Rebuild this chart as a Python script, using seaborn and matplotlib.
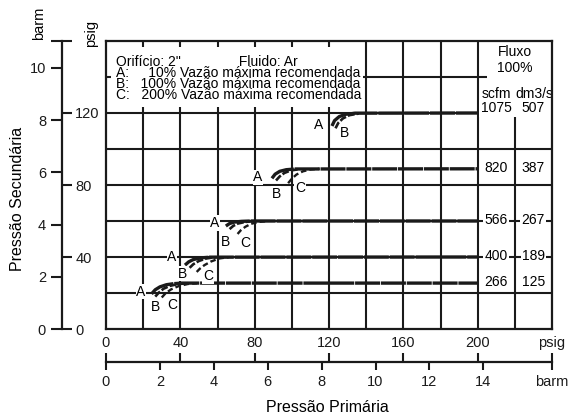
import matplotlib
matplotlib.use("Agg")
import matplotlib.pyplot as plt
import seaborn as sns
import numpy as np
from matplotlib.patches import Rectangle

sns.set_theme(style="ticks")
plt.rcParams['font.family'] = ['Liberation Sans', 'DejaVu Sans']
plt.rcParams['text.color'] = 'black'
plt.rcParams['axes.labelcolor'] = 'black'
plt.rcParams['xtick.color'] = 'black'
plt.rcParams['ytick.color'] = 'black'
plt.rcParams['lines.scale_dashes'] = False

PSIG_PER_BARM = 14.5038

# ---------------- data (psig) ----------------
# regulated secondary pressure levels (psig) and flows at 100 %
levels = [25.5, 40, 60, 89, 120]
flow_scfm = ["266", "400", "566", "820", "1075"]
flow_dm3s = ["125", "189", "267", "387", "507"]

# curve A (10 % flow) for each level: primary (x) vs secondary (y)
A_x = [[24.5, 26.5, 29.0, 32.5, 36.5, 41.0, 200],
       [42.5, 44.5, 47.0, 51.0, 56.0, 200],
       [64.5, 66.5, 69.0, 73.0, 78.0, 200],
       [89.3, 91.0, 93.5, 97.0, 102.0, 200],
       [121.6, 123.0, 125.5, 129.0, 134.0, 200]]
A_y = [[19.5, 21.8, 23.4, 24.6, 25.2, 25.5, 25.5],
       [35.5, 37.3, 38.6, 39.5, 39.9, 40.0],
       [57.2, 58.6, 59.4, 59.8, 60.0, 60.0],
       [83.7, 86.0, 87.6, 88.5, 88.9, 89.0],
       [112.8, 115.8, 118.0, 119.3, 119.9, 120.0]]
# curve B (100 % flow)
B_x = [[26.5, 28.5, 31.0, 34.5, 39.0, 44.0],
       [45.0, 47.0, 50.0, 54.0, 59.0],
       [66.5, 68.5, 71.0, 75.0, 80.0],
       [91.5, 93.5, 96.0, 99.5, 104.0],
       [123.5, 125.0, 127.5, 131.0, 136.0]]
B_y = [[18.0, 20.3, 22.4, 24.0, 25.0, 25.4],
       [34.0, 36.0, 37.8, 39.2, 39.9],
       [55.5, 57.3, 58.6, 59.5, 59.9],
       [82.5, 84.8, 86.7, 88.1, 88.8],
       [111.5, 114.5, 117.0, 118.8, 119.7]]
# curve C (200 % flow); none drawn at the top level
C_x = [[30.0, 32.0, 35.0, 39.0, 44.0, 49.0],
       [48.8, 50.5, 53.0, 56.5, 61.0, 66.0],
       [70.8, 72.5, 75.0, 78.0, 82.0, 87.0],
       [98.0, 100.0, 102.5, 106.0, 110.0, 115.0],
       None]
C_y = [[17.5, 19.8, 22.0, 23.8, 25.0, 25.4],
       [31.7, 33.5, 35.5, 37.5, 39.2, 39.9],
       [52.8, 54.8, 56.8, 58.4, 59.5, 59.9],
       [81.0, 83.5, 85.8, 87.6, 88.6, 89.0],
       None]

# letter positions (psig)
lab_A = [(18.8, 20.6), (35.5, 40.0), (58.6, 58.9), (81.8, 84.4), (114.6, 113.3)]
lab_B = [(26.4, 12.2), (41.4, 30.6), (64.1, 48.3), (91.5, 75.0), (128.6, 108.9)]
lab_C = [(35.5, 13.3), (54.9, 29.4), (74.8, 47.8), (104.4, 78.3), None]

psig_ticks_bottom = [0, 40, 80, 120, 160, 200]
barm_ticks_bottom = [0, 2, 4, 6, 8, 10, 12, 14]
psig_ticks_left = [0, 40, 80, 120]
barm_ticks_left = [0, 2, 4, 6, 8, 10]

legend_text = ('Orifício: 2"               Fluido: Ar\n'
               'A:     10% Vazão máxima recomendada\n'
               'B:   100% Vazão máxima recomendada\n'
               'C:   200% Vazão máxima recomendada')

# ---------------- figure ----------------
W, H = 574, 415
fig = plt.figure(figsize=(W / 100, H / 100), dpi=100)
fig.patch.set_facecolor('white')


def fx(px):
    return px / W


def fy(py):
    return 1 - py / H


L, R, T, B = 106, 552, 41, 329
ax = fig.add_axes([fx(L), fy(B), fx(R) - fx(L), fy(T) - fy(B)])
ax.set_xlim(0, 240)
ax.set_ylim(0, 160)
ax.set_xticks([])
ax.set_yticks([])
ax.tick_params(left=False, bottom=False)
for s in ax.spines.values():
    s.set_visible(True)
    s.set_color('k')
    s.set_linewidth(1.6)
    s.set_zorder(6)

glw = 1.5
ax.vlines(np.arange(20, 201, 20), 0, 160, colors='k', lw=glw, zorder=1)
ax.vlines(220, 0, 118, colors='k', lw=glw, zorder=1)
ax.hlines(np.arange(20, 101, 20), 0, 240, colors='k', lw=glw, zorder=1)
ax.hlines(120, 0, 200, colors='k', lw=glw, zorder=1)
ax.hlines(140, 0, 205, colors='k', lw=glw, zorder=1)

# legend panel (white, covers grid)
ax.add_patch(Rectangle((2.7, 123.3), 135.6, 33.4, fc='white', ec='none', zorder=2))

# curves
for i in range(len(levels)):
    sns.lineplot(x=A_x[i], y=A_y[i], ax=ax, color='k', lw=2.4, sort=False,
                 estimator=None, zorder=3, linestyle=(0, (18, 0.6)))
    sns.lineplot(x=B_x[i], y=B_y[i], ax=ax, color='k', lw=1.9, sort=False,
                 estimator=None, zorder=3, linestyle=(0, (5, 1.5)))
    if C_x[i] is not None:
        sns.lineplot(x=C_x[i], y=C_y[i], ax=ax, color='k', lw=1.7, sort=False,
                     estimator=None, zorder=3, linestyle=(0, (4, 2.2)))

lbox = dict(fc='white', ec='none', pad=0.4)
for pos, t in [(lab_A, 'A'), (lab_B, 'B'), (lab_C, 'C')]:
    for p in pos:
        if p is None:
            continue
        ax.text(p[0], p[1], t, ha='center', va='center', fontsize=10,
                bbox=lbox, zorder=4)

# flow table
nbox = dict(fc='white', ec='none', pad=1.0)
for i, lv in enumerate(levels):
    yy = lv + (2.5 if i == len(levels) - 1 else 0.5)
    ax.text(210, yy, flow_scfm[i], ha='center', va='center', fontsize=10,
            bbox=nbox, zorder=4)
    ax.text(230, yy, flow_dm3s[i], ha='center', va='center', fontsize=10,
            bbox=nbox, zorder=4)
ax.text(220, 154, 'Fluxo', ha='center', va='center', fontsize=10, zorder=4)
ax.text(220, 145, '100%', ha='center', va='center', fontsize=10, zorder=4)
ax.text(210, 130.5, 'scfm', ha='center', va='center', fontsize=10, zorder=4)
ax.text(230.5, 130.5, 'dm3/s', ha='center', va='center', fontsize=10, zorder=4)

# legend text (one block)
fig.text(fx(116), fy(99), legend_text, fontsize=10, va='baseline', ha='left',
         linespacing=0.74, zorder=7)

# ---------------- left secondary scales ----------------
rectL = [fx(62), fy(B), 0.0001, fy(T) - fy(B)]
axL = fig.add_axes(rectL)
axL.patch.set_visible(False)
axL.set_ylim(0, 160 / PSIG_PER_BARM)
axL.set_xticks([])
for s in ['top', 'bottom', 'right']:
    axL.spines[s].set_visible(False)
axL.spines['left'].set_linewidth(1.6)
axL.spines['left'].set_color('k')
axL.set_yticks(barm_ticks_left + [160 / PSIG_PER_BARM],
               [str(v) for v in barm_ticks_left] + [''])
axL.tick_params(axis='y', left=True, labelleft=True, right=False, direction='out',
                length=8, width=1.5, pad=3.5, labelsize=10.5, colors='k')

axP = fig.add_axes(rectL)
axP.patch.set_visible(False)
axP.set_ylim(0, 160)
axP.set_xticks([])
for s in axP.spines.values():
    s.set_visible(False)
axP.yaxis.tick_right()
axP.set_yticks(psig_ticks_left + [160], [str(v) for v in psig_ticks_left] + [''])
axP.tick_params(axis='y', right=True, labelright=True, left=False, labelleft=False,
                direction='out', length=7.5, width=1.5, pad=2, labelsize=10.5, colors='k')

fig.text(fx(39), fy(23), 'barm', rotation=90, ha='center', va='center', fontsize=10.5)
fig.text(fx(91), fy(33), 'psig', rotation=90, ha='center', va='center', fontsize=10.5)
fig.text(fx(18), fy(199), 'Pressão Secundária', rotation=90, ha='center',
         va='center', fontsize=11.5)

# ---------------- bottom primary scales ----------------
rectB = [fx(L), fy(362), fx(R) - fx(L), 0.0001]
axBp = fig.add_axes(rectB)
axBp.patch.set_visible(False)
axBp.set_xlim(0, 240)
axBp.set_yticks([])
for s in ['top', 'left', 'right']:
    axBp.spines[s].set_visible(False)
axBp.spines['bottom'].set_linewidth(1.6)
axBp.spines['bottom'].set_color('k')
axBp.xaxis.tick_top()
axBp.set_xticks(psig_ticks_bottom + [240], [str(v) for v in psig_ticks_bottom] + ['psig'])
axBp.tick_params(axis='x', top=True, labeltop=True, bottom=False, labelbottom=False,
                 direction='out', length=6.5, width=1.5, pad=2, labelsize=10.5, colors='k')

axBb = fig.add_axes(rectB)
axBb.patch.set_visible(False)
axBb.set_xlim(0, 240 / PSIG_PER_BARM)
axBb.set_yticks([])
for s in axBb.spines.values():
    s.set_visible(False)
axBb.set_xticks(barm_ticks_bottom + [240 / PSIG_PER_BARM],
                [str(v) for v in barm_ticks_bottom] + ['barm'])
axBb.tick_params(axis='x', bottom=True, labelbottom=True, top=False, labeltop=False,
                 direction='out', length=6, width=1.5, pad=3, labelsize=10.5, colors='k')

fig.text(fx(327), fy(412), 'Pressão Primária', ha='center', va='baseline', fontsize=11.5)

fig.savefig('out.png', dpi=100, facecolor='white')
